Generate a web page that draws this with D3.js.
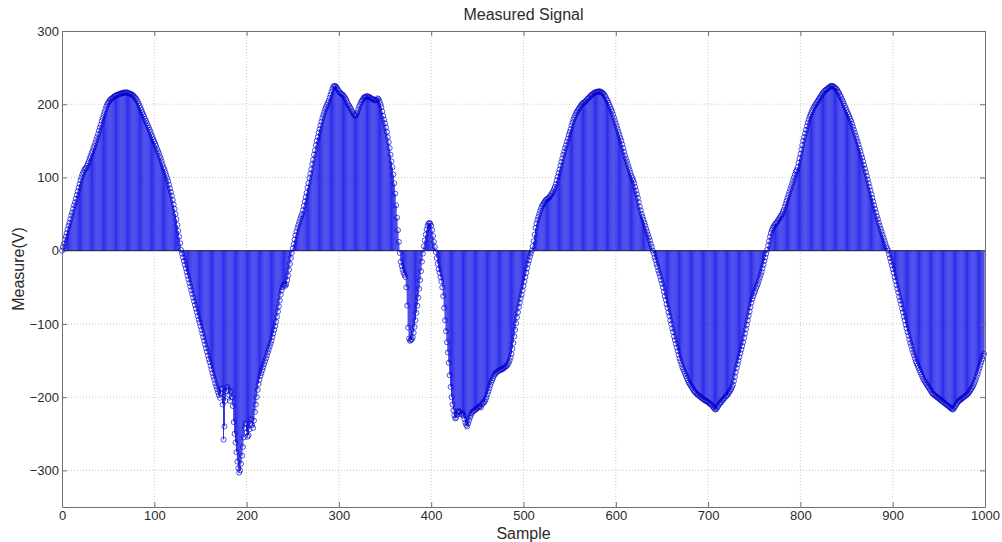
<!DOCTYPE html>
<meta charset="utf-8">
<style>

body {
  margin: 0;
  background: #fff;
}

text {
  font-family: Arial, "Liberation Sans", Helvetica, sans-serif;
  fill: #2b2b2b;
}

.grid line {
  stroke: #bdbdbd;
  stroke-width: 0.8px;
  stroke-dasharray: 1,2;
}

.axis path, .axis line {
  stroke: #707070;
}

</style>
<svg width="1002" height="542"></svg>
<script src="https://cdn.jsdelivr.net/npm/d3@7"></script>
<script>

var xTicks = [0, 100, 200, 300, 400, 500, 600, 700, 800, 900, 1000];
var yTicks = [-300, -200, -100, 0, 100, 200, 300];

// one reading per sample, 0..999
var signal = [
  0, 5, 10, 15, 19, 24, 29, 34, 38, 43,
  48, 52, 57, 62, 66, 71, 76, 81, 86, 91,
  96, 100, 104, 107, 110, 112, 113, 116, 119, 122,
  126, 129, 133, 136, 140, 143, 147, 151, 155, 159,
  164, 168, 172, 177, 181, 185, 189, 193, 197, 200,
  202, 204, 206, 207, 208, 209, 210, 211, 212, 212,
  213, 213, 214, 214, 215, 215, 215, 216, 216, 216,
  216, 216, 215, 215, 214, 214, 213, 212, 211, 209,
  208, 206, 204, 201, 198, 195, 192, 189, 186, 183,
  180, 177, 174, 171, 168, 165, 162, 158, 155, 152,
  149, 146, 143, 139, 136, 133, 129, 126, 122, 118,
  114, 111, 107, 103, 99, 95, 90, 85, 80, 75,
  69, 63, 57, 50, 43, 35, 27, 19, 10, 1,
  -4, -9, -14, -19, -24, -29, -34, -39, -44, -49,
  -54, -59, -64, -69, -74, -79, -84, -89, -94, -98,
  -103, -108, -113, -118, -123, -128, -133, -138, -143, -148,
  -152, -157, -162, -167, -172, -176, -181, -185, -189, -193,
  -197, -201, -195, -188, -210, -258, -240, -205, -192, -186,
  -190, -197, -205, -192, -200, -212, -234, -250, -262, -275,
  -288, -297, -303, -300, -291, -280, -268, -255, -242, -236,
  -248, -254, -252, -244, -236, -230, -238, -242, -232, -220,
  -210, -200, -190, -182, -176, -171, -167, -163, -159, -155,
  -151, -147, -143, -139, -135, -131, -127, -123, -118, -113,
  -108, -103, -97, -90, -83, -76, -68, -60, -54, -50,
  -47, -46, -48, -46, -40, -34, -26, -18, -10, -3,
  3, 9, 15, 21, 26, 31, 35, 39, 43, 47,
  50, 55, 61, 67, 73, 79, 86, 92, 99, 105,
  111, 118, 124, 131, 137, 144, 150, 155, 161, 166,
  171, 176, 181, 185, 189, 193, 196, 199, 202, 205,
  209, 213, 217, 221, 224, 225, 225, 224, 222, 220,
  218, 216, 215, 214, 213, 212, 210, 208, 206, 203,
  200, 198, 196, 194, 191, 189, 187, 185, 184, 186,
  189, 193, 197, 200, 203, 205, 207, 209, 210, 210,
  211, 211, 210, 210, 209, 208, 207, 207, 206, 206,
  205, 206, 208, 207, 204, 200, 196, 190, 184, 179,
  174, 168, 162, 155, 148, 140, 131, 122, 114, 104,
  92, 78, 62, 45, 28, 12, -3, -15, -21, -26,
  -30, -33, -36, -50, -75, -105, -120, -123, -122, -121,
  -118, -112, -104, -95, -85, -75, -64, -52, -40, -28,
  -15, -4, 6, 14, 22, 29, 34, 37, 38, 37,
  34, 28, 20, 12, 5, -2, -10, -18, -25, -30,
  -36, -42, -50, -62, -78, -95, -110, -125, -139, -153,
  -170, -186, -200, -210, -218, -225, -229, -228, -224, -220,
  -219, -221, -223, -224, -222, -225, -230, -235, -238, -240,
  -236, -232, -228, -225, -222, -220, -219, -218, -217, -216,
  -215, -214, -213, -212, -214, -210, -207, -208, -206, -203,
  -200, -196, -192, -188, -184, -180, -177, -174, -171, -169,
  -167, -166, -165, -164, -163, -163, -162, -162, -161, -160,
  -159, -158, -157, -155, -153, -150, -146, -141, -134, -126,
  -117, -108, -99, -91, -84, -77, -71, -65, -60, -54,
  -48, -42, -36, -30, -24, -18, -13, -8, -4, 0,
  6, 13, 22, 31, 37, 42, 46, 50, 54, 58,
  61, 63, 65, 67, 69, 70, 71, 72, 73, 75,
  77, 79, 81, 84, 87, 91, 96, 101, 106, 111,
  116, 121, 126, 131, 135, 140, 144, 149, 153, 158,
  162, 166, 171, 175, 179, 182, 185, 188, 190, 192,
  194, 196, 198, 200, 201, 202, 203, 204, 205, 207,
  208, 209, 211, 212, 213, 214, 215, 216, 216, 217,
  217, 217, 218, 217, 217, 216, 215, 214, 212, 210,
  207, 205, 202, 199, 196, 193, 190, 186, 182, 178,
  174, 170, 166, 162, 158, 154, 150, 145, 140, 135,
  130, 126, 122, 118, 114, 110, 106, 102, 99, 96,
  92, 87, 82, 77, 72, 66, 60, 55, 50, 46,
  42, 38, 34, 30, 26, 22, 18, 14, 9, 5,
  0, -4, -9, -13, -18, -22, -27, -31, -35, -40,
  -45, -50, -56, -62, -67, -73, -78, -84, -89, -95,
  -100, -106, -111, -117, -122, -127, -132, -137, -142, -147,
  -151, -155, -159, -162, -165, -168, -171, -174, -177, -180,
  -182, -184, -186, -188, -190, -192, -193, -195, -196, -197,
  -198, -199, -200, -201, -202, -203, -204, -205, -205, -206,
  -207, -208, -209, -210, -211, -213, -214, -216, -217, -216,
  -214, -212, -210, -208, -207, -205, -204, -202, -201, -199,
  -198, -197, -195, -193, -191, -189, -186, -183, -178, -172,
  -166, -160, -155, -150, -145, -140, -135, -130, -125, -119,
  -113, -107, -101, -95, -89, -83, -77, -71, -66, -62,
  -58, -55, -51, -48, -45, -41, -37, -33, -29, -24,
  -19, -14, -9, -4, 1, 7, 13, 19, 24, 28,
  31, 33, 35, 37, 38, 40, 42, 44, 46, 48,
  50, 53, 56, 60, 64, 68, 72, 76, 80, 84,
  88, 92, 96, 100, 104, 108, 110, 114, 120, 126,
  132, 138, 144, 150, 155, 160, 165, 170, 175, 179,
  183, 186, 189, 192, 195, 197, 199, 201, 203, 205,
  207, 209, 211, 213, 215, 216, 218, 219, 220, 221,
  222, 223, 224, 225, 225, 225, 224, 223, 222, 221,
  219, 217, 215, 212, 210, 207, 204, 201, 198, 195,
  192, 189, 186, 183, 180, 177, 173, 169, 165, 161,
  157, 153, 149, 145, 140, 136, 131, 127, 122, 117,
  112, 107, 102, 97, 92, 87, 82, 77, 72, 67,
  62, 57, 52, 47, 43, 38, 34, 30, 26, 22,
  18, 14, 10, 6, 3, 0, -5, -10, -15, -20,
  -25, -30, -36, -41, -47, -52, -57, -63, -68, -73,
  -79, -84, -90, -95, -101, -106, -111, -116, -121, -126,
  -130, -135, -139, -143, -147, -151, -154, -157, -160, -163,
  -166, -169, -172, -175, -177, -179, -181, -183, -185, -187,
  -189, -191, -193, -195, -196, -197, -198, -199, -200, -201,
  -202, -203, -204, -205, -206, -207, -208, -209, -210, -211,
  -212, -213, -214, -215, -216, -217, -216, -214, -212, -210,
  -208, -206, -205, -204, -203, -202, -201, -200, -199, -198,
  -197, -196, -195, -193, -191, -189, -187, -185, -182, -179,
  -176, -172, -168, -164, -160, -156, -152, -148, -144, -141
];

var svg = d3.select("svg"),
    margin = {top: 31, right: 17, bottom: 35, left: 62},
    width = +svg.attr("width") - margin.left - margin.right,
    height = +svg.attr("height") - margin.top - margin.bottom;

var x = d3.scaleLinear().domain([0, 1000]).range([0, width]);
var y = d3.scaleLinear().domain([-350, 300]).range([height, 0]);

var g = svg.append("g")
    .attr("transform", "translate(" + margin.left + "," + margin.top + ")");

// dotted grid
var grid = g.append("g").attr("class", "grid");
grid.selectAll(".gx")
  .data(xTicks.slice(1, -1))
  .enter().append("line")
    .attr("x1", function(d) { return x(d); })
    .attr("x2", function(d) { return x(d); })
    .attr("y1", 0)
    .attr("y2", height);
grid.selectAll(".gy")
  .data(yTicks.filter(function(d) { return d > -350 && d < 300; }))
  .enter().append("line")
    .attr("x1", 0)
    .attr("x2", width)
    .attr("y1", function(d) { return y(d); })
    .attr("y2", function(d) { return y(d); });

// stems
g.append("g")
  .selectAll("line")
  .data(signal)
  .enter().append("line")
    .attr("x1", function(d, i) { return x(i); })
    .attr("x2", function(d, i) { return x(i); })
    .attr("y1", y(0))
    .attr("y2", function(d) { return y(d); })
    .attr("stroke", "#0a0ae6")
    .attr("stroke-width", 0.85);

// baseline
g.append("line")
    .attr("x1", 0)
    .attr("x2", width)
    .attr("y1", y(0))
    .attr("y2", y(0))
    .attr("stroke", "#1a1a40")
    .attr("stroke-width", 1);

// markers
g.append("g")
  .selectAll("circle")
  .data(signal)
  .enter().append("circle")
    .attr("cx", function(d, i) { return x(i); })
    .attr("cy", function(d) { return y(d); })
    .attr("r", 2.5)
    .attr("fill", "none")
    .attr("stroke", "#0000c8")
    .attr("stroke-opacity", 0.85)
    .attr("stroke-width", 0.8);

// axes, ticks inside on all four sides
var fmt = d3.format("d");

g.append("g")
    .attr("class", "axis")
    .attr("transform", "translate(0," + height + ")")
    .call(d3.axisBottom(x).tickValues(xTicks).tickFormat(fmt)
        .tickSizeInner(-5).tickSizeOuter(0).tickPadding(4))
    .call(function(a) { a.selectAll("text").attr("font-size", 13); });

g.append("g")
    .attr("class", "axis")
    .call(d3.axisTop(x).tickValues(xTicks).tickFormat("")
        .tickSizeInner(-5).tickSizeOuter(0));

g.append("g")
    .attr("class", "axis")
    .call(d3.axisLeft(y).tickValues(yTicks).tickFormat(fmt)
        .tickSizeInner(-5).tickSizeOuter(0).tickPadding(3))
    .call(function(a) { a.selectAll("text").attr("font-size", 13); });

g.append("g")
    .attr("class", "axis")
    .attr("transform", "translate(" + width + ",0)")
    .call(d3.axisRight(y).tickValues(yTicks).tickFormat("")
        .tickSizeInner(-5).tickSizeOuter(0));

svg.selectAll(".axis text").attr("font-family", null);

// labels
svg.append("text")
    .attr("x", margin.left + width / 2)
    .attr("y", 20)
    .attr("text-anchor", "middle")
    .attr("font-size", 16)
    .text("Measured Signal");

svg.append("text")
    .attr("x", margin.left + width / 2)
    .attr("y", 539)
    .attr("text-anchor", "middle")
    .attr("font-size", 16)
    .text("Sample");

svg.append("text")
    .attr("transform", "translate(24," + (margin.top + height / 2) + ") rotate(-90)")
    .attr("text-anchor", "middle")
    .attr("font-size", 16)
    .text("Measure(V)");

</script>
